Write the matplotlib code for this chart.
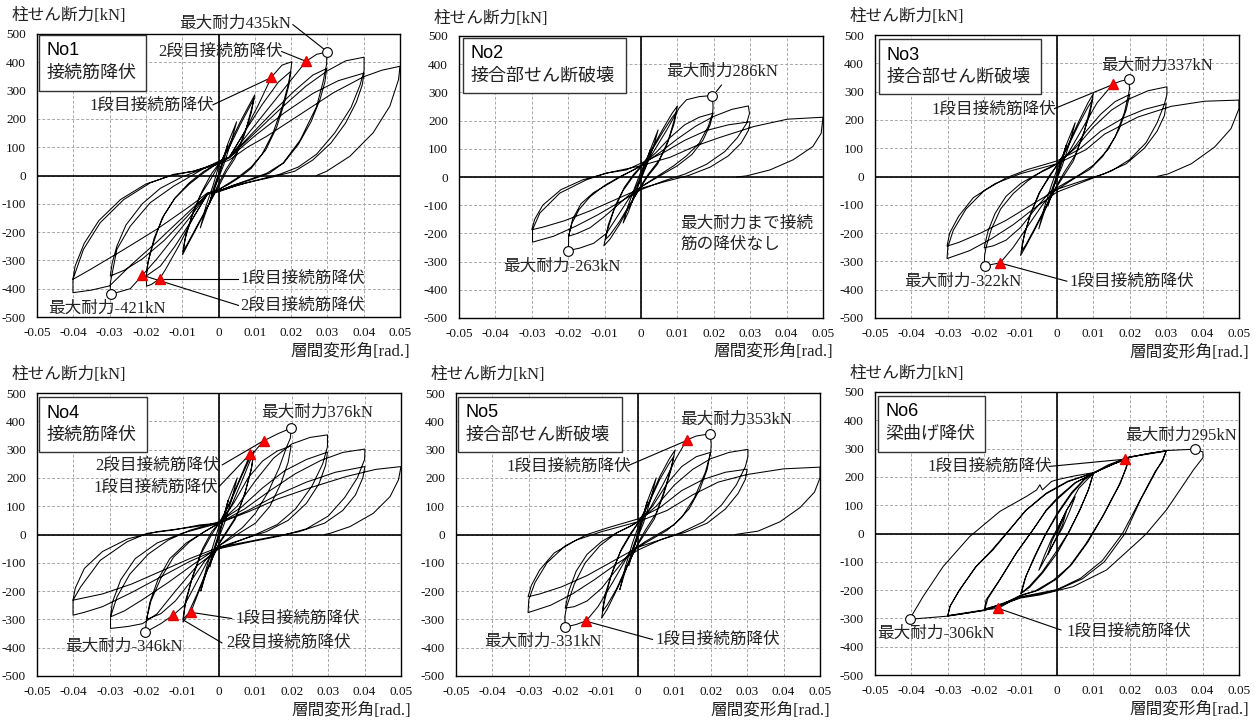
import matplotlib
matplotlib.use('Agg')
import matplotlib.pyplot as plt
from matplotlib.patches import Rectangle

plt.rcParams['axes.unicode_minus'] = False

SERIF_JP = ['Liberation Serif', 'Noto Sans CJK JP']
SANS_JP = ['Liberation Sans', 'Noto Sans CJK JP']

# ---------------- data ----------------
x_ticks = [-0.05, -0.04, -0.03, -0.02, -0.01, 0, 0.01, 0.02, 0.03, 0.04, 0.05]
x_tick_labels = ['-0.05', '-0.04', '-0.03', '-0.02', '-0.01', '0', '0.01', '0.02', '0.03', '0.04', '0.05']
y_ticks = [500, 400, 300, 200, 100, 0, -100, -200, -300, -400, -500]
y_tick_labels = ['500', '400', '300', '200', '100', '0', '-100', '-200', '-300', '-400', '-500']
y_label = '柱せん断力[kN]'
x_label = '層間変形角[rad.]'

specimens = ['No1', 'No2', 'No3', 'No4', 'No5', 'No6']
failure_modes = ['接続筋降伏', '接合部せん断破壊', '接合部せん断破壊', '接続筋降伏', '接合部せん断破壊', '梁曲げ降伏']

# hysteresis paths (drift angle [rad], column shear [kN])
no1_path = [
    (0, 0), (0.0025, 105), (0.0015, 55), (0, 0), (-0.0025, -100), (-0.0015, -50), (0, 5),
    (0.0025, 110), (0.005, 190), (0.0035, 120), (0.0015, 40), (-0.0015, -60), (-0.0035, -130), (-0.005, -185), (-0.0035, -110), (-0.0015, -35), (0, 30),
    (0.003, 110), (0.006, 190), (0.0085, 250), (0.01, 285), (0.0092, 240), (0.0075, 160), (0.005, 80), (0.002, 20), (0, -30), (-0.003, -110), (-0.006, -185), (-0.0085, -245), (-0.0099, -280), (-0.0092, -225), (-0.0075, -150), (-0.005, -70), (-0.002, -10), (0, 35),
    (0.003, 100), (0.006, 180), (0.0085, 240), (0.0098, 272), (0.009, 220), (0.007, 140), (0.0045, 60), (0.002, 10), (0, -40), (-0.003, -110), (-0.006, -180), (-0.0085, -240), (-0.0098, -268), (-0.009, -210), (-0.007, -130), (-0.0045, -55), (-0.002, 5), (0, 40),
    (0.003, 65), (0.007, 150), (0.011, 250), (0.0146, 348), (0.0175, 390), (0.0202, 402), (0.0199, 370), (0.0192, 320), (0.0175, 240), (0.015, 150), (0.012, 75), (0.009, 25), (0.006, -5), (0.003, -30), (0, -50),
    (-0.003, -65), (-0.007, -150), (-0.011, -250), (-0.0145, -330), (-0.0162, -365), (-0.0185, -385), (-0.0198, -391), (-0.0199, -353), (-0.0193, -300), (-0.0177, -220), (-0.015, -140), (-0.012, -80), (-0.008, -30), (-0.004, 10), (0, 45),
    (0.003, 65), (0.007, 150), (0.012, 250), (0.0165, 330), (0.0199, 368), (0.0194, 320), (0.018, 250), (0.016, 170), (0.013, 90), (0.009, 30), (0.005, -10), (0, -50),
    (-0.003, -65), (-0.007, -150), (-0.012, -250), (-0.016, -320), (-0.0199, -355), (-0.0195, -310), (-0.018, -240), (-0.0155, -150), (-0.012, -80), (-0.008, -25), (-0.004, 15), (0, 45),
    (0.003, 65), (0.008, 145), (0.013, 225), (0.018, 305), (0.0241, 403), (0.027, 428), (0.0298, 436), (0.0298, 395), (0.0288, 330), (0.027, 243), (0.0225, 125), (0.0178, 44), (0.0133, 8), (0.009, -12), (0.004, -35), (0, -55),
    (-0.003, -65), (-0.008, -150), (-0.013, -230), (-0.017, -295), (-0.021, -353), (-0.0243, -400), (-0.0298, -420), (-0.0298, -380), (-0.028, -261), (-0.0243, -179), (-0.0188, -96), (-0.0124, -38), (-0.008, -5), (-0.004, 25), (0, 50),
    (0.003, 65), (0.009, 145), (0.015, 225), (0.021, 300), (0.026, 355), (0.0298, 378), (0.0293, 330), (0.028, 270), (0.0255, 190), (0.022, 110), (0.018, 45), (0.014, 8), (0.009, -15), (0.004, -35), (0, -55),
    (-0.003, -65), (-0.009, -150), (-0.015, -230), (-0.021, -295), (-0.026, -335), (-0.0298, -355), (-0.0293, -310), (-0.028, -250), (-0.0255, -175), (-0.021, -100), (-0.016, -45), (-0.01, -5), (-0.005, 20), (0, 45),
    (0.003, 65), (0.01, 150), (0.017, 235), (0.024, 315), (0.03, 370), (0.035, 405), (0.0401, 418), (0.0401, 370), (0.039, 320), (0.0365, 240), (0.032, 150), (0.027, 75), (0.022, 30), (0.017, 5), (0.011, -15), (0.005, -35), (0, -58),
    (-0.003, -65), (-0.01, -150), (-0.017, -235), (-0.024, -315), (-0.03, -390), (-0.035, -405), (-0.0401, -414), (-0.0401, -367), (-0.0372, -261), (-0.0326, -167), (-0.0261, -85), (-0.0188, -26), (-0.0124, 4), (-0.0069, 15), (0, 45),
    (0.003, 62), (0.01, 140), (0.018, 220), (0.026, 290), (0.033, 335), (0.0401, 362), (0.0396, 320), (0.038, 260), (0.035, 185), (0.031, 115), (0.026, 55), (0.021, 15), (0.015, -5), (0.008, -25), (0, -55),
    (-0.003, -61), (-0.0078, -108), (-0.017, -190), (-0.026, -261), (-0.0353, -332), (-0.0401, -367), (-0.0395, -320), (-0.037, -240), (-0.033, -160), (-0.027, -85), (-0.02, -30), (-0.013, 0), (-0.007, 15), (0, 40),
    (0.003, 55), (0.008, 100), (0.0132, 138), (0.0224, 215), (0.0316, 292), (0.04, 349), (0.045, 372), (0.05, 386), (0.0496, 339), (0.0472, 245), (0.0426, 151), (0.0362, 68), (0.0298, 15), (0.027, 0),
]

no2_path = [
    (0, 0), (0.0025, 95), (0.0015, 45), (0, 0), (-0.0025, -90), (-0.0015, -40), (0, 5),
    (0.0025, 95), (0.0047, 167), (0.0035, 110), (0.0015, 40), (-0.0015, -55), (-0.0035, -125), (-0.0049, -163), (-0.0035, -100), (-0.0015, -30), (0, 20),
    (0.003, 100), (0.006, 170), (0.0085, 225), (0.01, 252), (0.0092, 205), (0.0075, 130), (0.005, 60), (0.002, 10), (0, -30), (-0.003, -100), (-0.006, -170), (-0.0085, -220), (-0.0102, -244), (-0.0094, -195), (-0.0075, -120), (-0.005, -50), (-0.002, 5), (0, 35),
    (0.003, 95), (0.006, 160), (0.0085, 210), (0.0098, 232), (0.009, 185), (0.007, 110), (0.0045, 45), (0.002, 5), (0, -35), (-0.003, -95), (-0.006, -160), (-0.0085, -205), (-0.0098, -222), (-0.009, -170), (-0.007, -100), (-0.0045, -35), (-0.002, 10), (0, 38),
    (0.003, 80), (0.007, 165), (0.0105, 245), (0.0125, 274), (0.016, 285), (0.0196, 289), (0.0198, 250), (0.0197, 226), (0.0185, 180), (0.016, 120), (0.0125, 75), (0.009, 40), (0.006, 15), (0.003, -10), (0, -35),
    (-0.003, -70), (-0.0065, -140), (-0.0095, -200), (-0.013, -235), (-0.0168, -252), (-0.02, -261), (-0.0199, -235), (-0.0199, -211), (-0.0188, -150), (-0.0165, -95), (-0.013, -55), (-0.009, -25), (-0.005, 5), (0, 40),
    (0.004, 85), (0.008, 140), (0.012, 185), (0.016, 212), (0.0198, 226), (0.019, 185), (0.017, 130), (0.014, 80), (0.01, 40), (0.006, 10), (0.002, -20),
    (-0.002, -50), (-0.006, -95), (-0.01, -140), (-0.014, -180), (-0.0175, -200), (-0.0199, -210), (-0.019, -165), (-0.017, -115), (-0.014, -70), (-0.01, -30), (-0.006, 0), (-0.002, 25), (0, 40),
    (0.005, 85), (0.01, 135), (0.015, 180), (0.02, 215), (0.025, 240), (0.0295, 252), (0.0298, 225), (0.029, 190), (0.0265, 140), (0.023, 90), (0.018, 45), (0.012, 10), (0.006, -15), (0, -45),
    (-0.006, -90), (-0.012, -135), (-0.018, -175), (-0.024, -210), (-0.0298, -231), (-0.0298, -187), (-0.0278, -128), (-0.0223, -57), (-0.015, -10), (-0.0095, 14), (-0.004, 25), (0, 49),
    (0.006, 85), (0.012, 130), (0.018, 165), (0.024, 185), (0.03, 196), (0.0295, 165), (0.0275, 120), (0.024, 75), (0.019, 35), (0.013, 5), (0.007, -15), (0, -40),
    (-0.007, -80), (-0.014, -120), (-0.021, -155), (-0.027, -178), (-0.03, -187), (-0.0292, -150), (-0.027, -100), (-0.022, -45), (-0.016, -10), (-0.009, 15), (0, 40),
    (0.008, 70), (0.015, 110), (0.0216, 140), (0.031, 179), (0.0402, 205), (0.05, 212), (0.0495, 155), (0.0472, 108), (0.0418, 61), (0.0354, 25), (0.029, 4), (0.0262, 0),
]

no3_path = [
    (0, 0), (0.0025, 110), (0.0015, 55), (0, 0), (-0.0025, -105), (-0.0015, -50), (0, 5),
    (0.0025, 110), (0.005, 190), (0.0035, 120), (0.0015, 40), (-0.0015, -55), (-0.0035, -125), (-0.005, -185), (-0.0035, -110), (-0.0015, -30), (0, 25),
    (0.003, 110), (0.006, 195), (0.0085, 260), (0.01, 293), (0.0092, 245), (0.0075, 160), (0.005, 75), (0.002, 15), (0, -30), (-0.003, -110), (-0.006, -185), (-0.0085, -245), (-0.01, -279), (-0.0093, -225), (-0.0075, -140), (-0.005, -60), (-0.002, 0), (0, 40),
    (0.003, 105), (0.006, 185), (0.0085, 245), (0.0098, 272), (0.009, 220), (0.007, 140), (0.0045, 55), (0.002, 5), (0, -35), (-0.003, -105), (-0.006, -180), (-0.0085, -240), (-0.0098, -265), (-0.009, -205), (-0.007, -125), (-0.0045, -50), (-0.002, 5), (0, 40),
    (0.003, 80), (0.007, 170), (0.011, 260), (0.0154, 327), (0.0175, 337), (0.0198, 344), (0.0199, 310), (0.0197, 293), (0.0185, 225), (0.016, 140), (0.0125, 70), (0.009, 25), (0.005, -5), (0.002, -30),
    (-0.001, -55), (-0.004, -100), (-0.008, -175), (-0.012, -250), (-0.0156, -305), (-0.018, -311), (-0.0199, -317), (-0.0199, -280), (-0.0195, -250), (-0.018, -185), (-0.0155, -115), (-0.012, -60), (-0.008, -15), (-0.004, 20), (0, 45),
    (0.004, 90), (0.008, 160), (0.012, 220), (0.016, 265), (0.02, 290), (0.019, 235), (0.017, 165), (0.014, 95), (0.01, 40), (0.006, 5), (0.002, -25),
    (-0.002, -55), (-0.006, -115), (-0.01, -180), (-0.014, -225), (-0.0175, -245), (-0.02, -252), (-0.019, -195), (-0.017, -130), (-0.014, -70), (-0.01, -25), (-0.006, 5), (-0.002, 30), (0, 45),
    (0.005, 100), (0.01, 175), (0.015, 235), (0.02, 275), (0.025, 303), (0.0302, 317), (0.0302, 290), (0.0295, 255), (0.0275, 190), (0.0245, 120), (0.02, 60), (0.015, 20), (0.01, -5), (0.005, -30), (0, -55),
    (-0.006, -110), (-0.012, -170), (-0.018, -220), (-0.024, -262), (-0.0302, -290), (-0.03, -250), (-0.0285, -190), (-0.025, -115), (-0.02, -50), (-0.014, -5), (-0.008, 25), (0, 55),
    (0.006, 95), (0.012, 160), (0.018, 205), (0.024, 237), (0.03, 257), (0.0295, 215), (0.0275, 160), (0.024, 100), (0.019, 45), (0.013, 10), (0.007, -15), (0, -45),
    (-0.007, -100), (-0.014, -155), (-0.021, -200), (-0.027, -233), (-0.0302, -246), (-0.0295, -200), (-0.027, -140), (-0.023, -75), (-0.017, -25), (-0.01, 10), (0, 45),
    (0.008, 95), (0.0131, 150), (0.0222, 210), (0.0314, 248), (0.0406, 266), (0.05, 270), (0.05, 240), (0.0478, 169), (0.0433, 104), (0.0369, 45), (0.0305, 9), (0.0274, 0),
]

no4_path = [
    (0, 0), (0.0025, 120), (0.0015, 60), (0, 0), (-0.0025, -115), (-0.0015, -55), (0, 5),
    (0.0025, 120), (0.005, 200), (0.0035, 125), (0.0015, 40), (-0.0015, -60), (-0.0035, -135), (-0.005, -200), (-0.0035, -120), (-0.0015, -35), (0, 30),
    (0.003, 115), (0.006, 205), (0.0086, 284), (0.0096, 293), (0.009, 240), (0.0072, 150), (0.005, 70), (0.002, 10), (0, -30), (-0.003, -120), (-0.0055, -200), (-0.0077, -273), (-0.0099, -309), (-0.0093, -250), (-0.0075, -160), (-0.005, -70), (-0.002, 0), (0, 40),
    (0.003, 110), (0.006, 200), (0.0085, 270), (0.0095, 285), (0.0088, 225), (0.007, 140), (0.0045, 55), (0.002, 5), (0, -35), (-0.003, -115), (-0.006, -210), (-0.0085, -280), (-0.0099, -300), (-0.0092, -235), (-0.0072, -145), (-0.0045, -50), (-0.002, 10), (0, 40),
    (0.003, 90), (0.006, 180), (0.0095, 290), (0.0123, 331), (0.016, 355), (0.0198, 376), (0.0196, 340), (0.0186, 310), (0.0165, 235), (0.0135, 150), (0.01, 75), (0.0065, 25), (0.003, -10), (0, -40),
    (-0.003, -90), (-0.006, -165), (-0.0095, -250), (-0.0126, -285), (-0.016, -315), (-0.0203, -346), (-0.0199, -300), (-0.0187, -235), (-0.016, -155), (-0.0125, -80), (-0.008, -25), (-0.004, 10), (0, 40),
    (0.004, 110), (0.008, 200), (0.012, 260), (0.016, 295), (0.0198, 313), (0.019, 255), (0.017, 180), (0.014, 100), (0.01, 40), (0.005, 0), (0, -40),
    (-0.004, -95), (-0.008, -170), (-0.012, -235), (-0.016, -280), (-0.0199, -300), (-0.019, -240), (-0.0168, -160), (-0.0135, -85), (-0.009, -30), (-0.004, 10), (0, 40),
    (0.005, 100), (0.01, 190), (0.015, 270), (0.02, 320), (0.025, 343), (0.0298, 352), (0.0298, 310), (0.0285, 250), (0.0255, 170), (0.021, 90), (0.016, 35), (0.01, 0), (0.005, -25), (0, -50),
    (-0.006, -110), (-0.012, -200), (-0.017, -280), (-0.021, -315), (-0.025, -325), (-0.0298, -332), (-0.0298, -291), (-0.028, -220), (-0.0245, -140), (-0.0195, -70), (-0.014, -20), (-0.008, 15), (0, 45),
    (0.006, 95), (0.012, 165), (0.018, 225), (0.024, 265), (0.0298, 291), (0.0293, 245), (0.0275, 180), (0.024, 110), (0.019, 50), (0.013, 10), (0.007, -15), (0, -45),
    (-0.007, -105), (-0.014, -170), (-0.021, -230), (-0.026, -270), (-0.0298, -291), (-0.0293, -240), (-0.027, -160), (-0.023, -85), (-0.017, -30), (-0.01, 5), (0, 40),
    (0.007, 90), (0.014, 155), (0.021, 215), (0.028, 262), (0.034, 290), (0.0401, 302), (0.04, 265), (0.038, 200), (0.0345, 130), (0.03, 65), (0.024, 20), (0.017, -5), (0.009, -25), (0, -50),
    (-0.008, -95), (-0.016, -150), (-0.024, -205), (-0.032, -255), (-0.037, -275), (-0.0401, -285), (-0.0401, -232), (-0.038, -185), (-0.0326, -91), (-0.0253, -26), (-0.0198, 4), (-0.0125, 16), (-0.0052, 34), (0, 40),
    (0.008, 85), (0.016, 140), (0.024, 185), (0.032, 220), (0.0401, 240), (0.0395, 200), (0.0375, 140), (0.034, 85), (0.029, 40), (0.022, 10), (0.014, -10), (0.006, -30), (0, -45),
    (-0.008, -85), (-0.016, -130), (-0.024, -175), (-0.032, -210), (-0.0401, -232), (-0.0395, -190), (-0.037, -120), (-0.032, -60), (-0.025, -15), (-0.017, 10), (-0.008, 25), (0, 40),
    (0.008, 80), (0.016, 125), (0.025, 165), (0.035, 205), (0.043, 230), (0.05, 240), (0.0493, 193), (0.047, 134), (0.0424, 75), (0.036, 28), (0.0305, 4), (0.029, 0),
]

no5_path = [
    (0, 0), (0.0025, 115), (0.0015, 55), (0, 0), (-0.0025, -110), (-0.0015, -50), (0, 5),
    (0.0025, 115), (0.005, 200), (0.0035, 125), (0.0015, 40), (-0.0015, -55), (-0.0035, -130), (-0.005, -195), (-0.0035, -115), (-0.0015, -30), (0, 25),
    (0.003, 115), (0.006, 205), (0.0085, 265), (0.0102, 299), (0.0094, 250), (0.0075, 165), (0.005, 75), (0.002, 15), (0, -30), (-0.003, -115), (-0.006, -200), (-0.0085, -265), (-0.01, -295), (-0.0093, -240), (-0.0075, -150), (-0.005, -65), (-0.002, 0), (0, 40),
    (0.003, 110), (0.006, 195), (0.0085, 250), (0.0098, 275), (0.009, 225), (0.007, 140), (0.0045, 55), (0.002, 5), (0, -35), (-0.003, -110), (-0.006, -195), (-0.0085, -250), (-0.0098, -272), (-0.009, -210), (-0.007, -130), (-0.0045, -50), (-0.002, 5), (0, 40),
    (0.003, 85), (0.007, 180), (0.0105, 270), (0.0134, 334), (0.016, 348), (0.0198, 356), (0.0201, 320), (0.02, 290), (0.0185, 220), (0.0155, 130), (0.012, 60), (0.008, 15), (0.004, -15), (0, -45),
    (-0.003, -80), (-0.007, -170), (-0.011, -255), (-0.0142, -305), (-0.017, -318), (-0.02, -327), (-0.0201, -290), (-0.0196, -255), (-0.0175, -175), (-0.0145, -100), (-0.0105, -40), (-0.006, 5), (-0.002, 30), (0, 45),
    (0.004, 100), (0.008, 180), (0.012, 240), (0.016, 275), (0.0199, 290), (0.019, 230), (0.017, 160), (0.014, 90), (0.01, 35), (0.006, 5), (0.002, -25),
    (-0.002, -60), (-0.006, -125), (-0.01, -190), (-0.014, -235), (-0.0175, -255), (-0.02, -260), (-0.019, -200), (-0.017, -130), (-0.014, -70), (-0.01, -25), (-0.006, 5), (-0.002, 30), (0, 45),
    (0.005, 100), (0.01, 175), (0.015, 230), (0.02, 268), (0.025, 290), (0.0302, 301), (0.0302, 275), (0.0295, 240), (0.027, 175), (0.023, 105), (0.018, 45), (0.012, 8), (0.006, -20), (0, -55),
    (-0.006, -105), (-0.012, -160), (-0.018, -210), (-0.024, -250), (-0.0302, -276), (-0.03, -230), (-0.0283, -170), (-0.025, -100), (-0.02, -40), (-0.014, 0), (-0.008, 25), (0, 55),
    (0.006, 95), (0.012, 155), (0.018, 195), (0.024, 220), (0.03, 231), (0.0295, 195), (0.0275, 145), (0.024, 90), (0.019, 40), (0.013, 8), (0.007, -15), (0, -45),
    (-0.007, -95), (-0.014, -145), (-0.021, -185), (-0.027, -210), (-0.0302, -220), (-0.0293, -180), (-0.027, -125), (-0.023, -65), (-0.017, -20), (-0.01, 10), (0, 45),
    (0.008, 85), (0.015, 140), (0.022, 185), (0.03, 212), (0.04, 232), (0.05, 238), (0.05, 200), (0.0485, 150), (0.0445, 95), (0.039, 45), (0.033, 12), (0.0267, 0),
]

no6_path = [
    (0, 0), (0.0025, 75), (0.0015, 30), (0, -10), (-0.0025, -75), (-0.0015, -30), (0, 10),
    (0.0025, 80), (0.005, 130), (0.0035, 80), (0.0015, 20), (-0.002, -60), (-0.005, -130), (-0.0035, -80), (-0.0015, -20), (0, 15),
    (0.003, 90), (0.006, 160), (0.01, 213), (0.0085, 150), (0.006, 75), (0.003, 0), (0, -60), (-0.004, -135), (-0.0075, -185), (-0.0098, -211),
    (-0.0085, -150), (-0.006, -80), (-0.003, 0), (0, 65), (0.004, 140), (0.0075, 190), (0.01, 213),
    (0.0088, 160), (0.0065, 90), (0.0035, 10), (0, -70), (-0.004, -140), (-0.0075, -190), (-0.01, -213),
    (-0.0088, -160), (-0.0065, -90), (-0.0035, -10), (0, 70), (0.004, 145), (0.0075, 192), (0.01, 214), (0.014, 242), (0.0186, 265), (0.0197, 270),
    (0.019, 235), (0.0175, 180), (0.013, 70), (0.0085, -30), (0.004, -110), (0, -160), (-0.005, -200), (-0.01, -220), (-0.0161, -264), (-0.0199, -270),
    (-0.0195, -235), (-0.0158, -164), (-0.0112, -70), (-0.0066, 13), (-0.0029, 84), (0, 125), (0.005, 180), (0.01, 212), (0.015, 245), (0.0198, 263),
    (0.019, 230), (0.017, 170), (0.0125, 60), (0.008, -35), (0.0035, -115), (-0.001, -165), (-0.006, -203), (-0.01, -218), (-0.015, -250), (-0.0198, -266),
    (-0.019, -230), (-0.0155, -160), (-0.011, -65), (-0.0065, 15), (-0.003, 80), (0, 120), (0.005, 178), (0.01, 214), (0.0186, 265), (0.025, 283), (0.03, 292),
    (0.029, 260), (0.0274, 225), (0.023, 120), (0.0187, 0), (0.013, -100), (0.007, -160), (0, -200), (-0.005, -215), (-0.01, -225), (-0.015, -252), (-0.02, -271), (-0.025, -282), (-0.03, -291),
    (-0.0295, -260), (-0.0268, -199), (-0.0222, -117), (-0.0176, -58), (-0.013, 13), (-0.0084, 84), (-0.0029, 143), (0.003, 185), (0.01, 214), (0.02, 270), (0.03, 291),
    (0.029, 255), (0.027, 220), (0.0225, 110), (0.018, 0), (0.0125, -95), (0.0065, -158), (0, -198), (-0.01, -224), (-0.02, -270), (-0.03, -290),
    (-0.0293, -255), (-0.027, -205), (-0.0225, -120), (-0.018, -60), (-0.0133, 10), (-0.0087, 80), (-0.003, 140), (0.003, 183), (0.01, 214), (0.02, 271), (0.03, 293), (0.0378, 298), (0.0401, 288), (0.0401, 268),
    (0.0375, 225), (0.0301, 84), (0.0246, 0), (0.0228, -22), (0.0136, -129), (0.0044, -188), (-0.0047, -217), (-0.01, -228), (-0.02, -272), (-0.03, -292), (-0.0405, -303),
    (-0.0368, -223), (-0.0313, -117), (-0.024, -11), (-0.0157, 78), (-0.0084, 131), (-0.0056, 154), (-0.0047, 172), (-0.004, 154), (-0.0015, 184), (0, 190), (0.005, 204), (0.01, 215),
]

# maximum strength points (open circles)
no1_max = [(0.0298, 436), (-0.0297, -420)]
no2_max = [(0.0196, 289), (-0.0200, -261)]
no3_max = [(0.0198, 344), (-0.0199, -317)]
no4_max = [(0.0198, 376), (-0.0203, -346)]
no5_max = [(0.0198, 356), (-0.0200, -327)]
no6_max = [(0.0378, 298), (-0.0405, -303)]

# splice-bar yield points (red triangles)
no1_yield = [(0.0146, 348), (0.0241, 403), (-0.0210, -353), (-0.0162, -365)]
no2_yield = []
no3_yield = [(0.0154, 327), (-0.0156, -305)]
no4_yield = [(0.0086, 284), (0.0123, 331), (-0.0077, -273), (-0.0126, -285)]
no5_yield = [(0.0134, 334), (-0.0142, -305)]
no6_yield = [(0.0186, 265), (-0.0161, -264)]

paths = [no1_path, no2_path, no3_path, no4_path, no5_path, no6_path]
max_points = [no1_max, no2_max, no3_max, no4_max, no5_max, no6_max]
yield_points = [no1_yield, no2_yield, no3_yield, no4_yield, no5_yield, no6_yield]

# annotation texts
notes_text = [
    ['最大耐力435kN', '2段目接続筋降伏', '1段目接続筋降伏', '1段目接続筋降伏', '2段目接続筋降伏', '最大耐力-421kN'],
    ['最大耐力286kN', '最大耐力-263kN', '最大耐力まで接続', '筋の降伏なし'],
    ['最大耐力337kN', '1段目接続筋降伏', '1段目接続筋降伏', '最大耐力-322kN'],
    ['最大耐力376kN', '2段目接続筋降伏', '1段目接続筋降伏', '1段目接続筋降伏', '2段目接続筋降伏', '最大耐力-346kN'],
    ['最大耐力353kN', '1段目接続筋降伏', '1段目接続筋降伏', '最大耐力-331kN'],
    ['最大耐力295kN', '1段目接続筋降伏', '1段目接続筋降伏', '最大耐力-306kN'],
]

# ---------------- layout ----------------
W, H = 1258, 720
axes_px = [(37, 34, 400, 317), (459, 36, 823, 318), (875, 35, 1239, 318),
           (37, 393, 401, 676), (456, 393, 820, 676), (875, 392, 1239, 675)]
box_axes = [(0.0055, 0.799, 0.300, 0.996), (0.010, 0.797, 0.459, 0.994), (0.010, 0.790, 0.457, 0.985),
            (0.0064, 0.793, 0.301, 0.985), (0.0064, 0.793, 0.455, 0.987), (0.008, 0.789, 0.301, 0.986)]
# (text anchor (left, centre) in data units, leader polyline or None)
notes_layout = [
    [((-0.0109, 536), [(0.0205, 533), (0.0293, 444)]),
     ((-0.0166, 436), [(0.0174, 438), (0.0236, 406)]),
     ((-0.0355, 247), [(-0.0015, 250), (0.0142, 344)]),
     ((0.006, -365), [(0.0055, -365), (-0.0155, -365)]),
     ((0.006, -459), [(0.0055, -459), (-0.0196, -358)]),
     ((-0.047, -471), None)],
    [((0.0068, 374), [(0.0207, 303), (0.0221, 326)]),
     ((-0.0379, -317), None),
     ((0.0108, -166), None),
     ((0.0108, -240), None)],
    [((0.0121, 390), None),
     ((-0.0346, 236), [(-0.0007, 240), (0.0148, 322)]),
     ((0.0034, -373), [(0.0027, -370), (-0.015, -308)]),
     ((-0.0419, -373), None)],
    [((0.0115, 429), None),
     ((-0.034, 243), [(0.0009, 246), (0.0118, 328)]),
     ((-0.0344, 163), [(0.0, 169), (0.0082, 280)]),
     ((0.0044, -297), [(0.0035, -297), (-0.0072, -276)]),
     ((0.0021, -383), [(0.0008, -383), (-0.0097, -303)]),
     ((-0.0422, -397), None)],
    [((0.0116, 406), None),
     ((-0.0362, 240), [(-0.0028, 243), (0.013, 330)]),
     ((0.0047, -374), [(0.004, -371), (-0.0138, -308)]),
     ((-0.0424, -380), None)],
    [((0.0187, 345), None),
     ((-0.0355, 235), [(-0.0021, 237), (0.0182, 262)]),
     ((0.0025, -347), [(0.0011, -341), (-0.0158, -266)]),
     ((-0.0493, -355), None)],
]

fig = plt.figure(figsize=(W / 100, H / 100), dpi=100)

for i in range(6):
    l, t, r, b = axes_px[i]
    ax = fig.add_axes([l / W, 1 - b / H, (r - l) / W, (b - t) / H])
    ax.set_xlim(-0.05, 0.05)
    ax.set_ylim(-500, 500)
    ax.set_xticks(x_ticks)
    ax.set_xticklabels(x_tick_labels, family=SERIF_JP, fontsize=9.5)
    ax.set_yticks(y_ticks)
    ax.set_yticklabels(y_tick_labels, family=SERIF_JP, fontsize=9.5)
    ax.tick_params(axis='both', length=0, labelcolor='#111111')
    ax.tick_params(axis='y', pad=8)
    ax.tick_params(axis='x', pad=7)
    ax.grid(True, color='#a8a8a8', linestyle=(0, (3, 2)), linewidth=0.7)
    ax.set_axisbelow(True)
    for s in ax.spines.values():
        s.set_color('black')
        s.set_linewidth(1.0)
    ax.axhline(0, color='black', lw=1.2, zorder=2)
    ax.axvline(0, color='black', lw=1.2, zorder=2)

    xs = [p[0] for p in paths[i]]
    ys = [p[1] for p in paths[i]]
    ax.plot(xs, ys, color='black', lw=0.75, zorder=3, solid_joinstyle='round')

    for (px, py) in yield_points[i]:
        ax.plot(px, py, marker='^', ms=6.5, color='#ff0000', mec='#e00000', zorder=5, clip_on=False)
    for (px, py) in max_points[i]:
        ax.plot(px, py, marker='o', ms=7, mfc='white', mec='black', mew=0.8, zorder=5, clip_on=False)

    # leaders and notes
    for txt, (pos, leader) in zip(notes_text[i], notes_layout[i]):
        ax.text(pos[0], pos[1], txt, family=SERIF_JP, fontsize=12, ha='left', va='center',
                color='#222222', zorder=6)
        if leader:
            lx = [p[0] for p in leader]
            ly = [p[1] for p in leader]
            ax.plot(lx, ly, color='black', lw=0.8, zorder=4, clip_on=False)

    # specimen box
    x0, y0, x1, y1 = box_axes[i]
    ax.add_patch(Rectangle((x0, y0), x1 - x0, y1 - y0, transform=ax.transAxes,
                           facecolor='white', edgecolor='#333333', lw=1.0, zorder=6))
    ax.text(x0 + 0.021, y1 - 0.056, specimens[i], transform=ax.transAxes, family=SANS_JP,
            fontsize=13, ha='left', va='center', zorder=7)
    ax.text(x0 + 0.021, y1 - 0.134, failure_modes[i], transform=ax.transAxes, family=SANS_JP,
            fontsize=13, ha='left', va='center', color='#222222', zorder=7)

    # axis titles
    ax.text(-0.07, 1.062, y_label, transform=ax.transAxes, family=SERIF_JP, fontsize=12,
            ha='left', va='center', color='#222222')
    ax.text(1.027, -0.122, x_label, transform=ax.transAxes, family=SERIF_JP, fontsize=12,
            ha='right', va='center', color='#222222')

fig.savefig('out.png', dpi=100)
